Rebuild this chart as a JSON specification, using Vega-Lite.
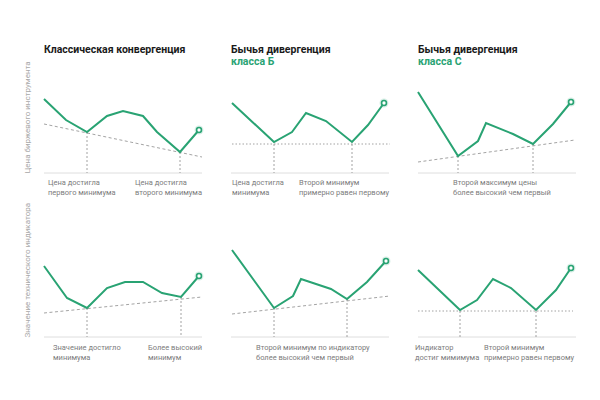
{
  "$schema": "https://vega.github.io/schema/vega-lite/v6.json",
  "padding": {"left": 23, "top": 45, "right": 5, "bottom": 5},
  "datasets": {
    "series": [
      {"panel": "p1", "x": 0, "y": 74}, {"panel": "p1", "x": 22, "y": 53}, {"panel": "p1", "x": 43, "y": 41},
      {"panel": "p1", "x": 63, "y": 57}, {"panel": "p1", "x": 79, "y": 62}, {"panel": "p1", "x": 99, "y": 57},
      {"panel": "p1", "x": 113, "y": 41}, {"panel": "p1", "x": 136, "y": 21}, {"panel": "p1", "x": 155, "y": 43},
      {"panel": "p2", "x": 1, "y": 70}, {"panel": "p2", "x": 43, "y": 31}, {"panel": "p2", "x": 61, "y": 41},
      {"panel": "p2", "x": 75, "y": 60}, {"panel": "p2", "x": 95, "y": 52}, {"panel": "p2", "x": 121, "y": 31},
      {"panel": "p2", "x": 137, "y": 48}, {"panel": "p2", "x": 153, "y": 70},
      {"panel": "p3", "x": 0, "y": 81}, {"panel": "p3", "x": 40, "y": 17}, {"panel": "p3", "x": 60, "y": 32},
      {"panel": "p3", "x": 68, "y": 50}, {"panel": "p3", "x": 95, "y": 39}, {"panel": "p3", "x": 115, "y": 29},
      {"panel": "p3", "x": 135, "y": 49}, {"panel": "p3", "x": 153, "y": 71},
      {"panel": "p4", "x": 0, "y": 71}, {"panel": "p4", "x": 23, "y": 39}, {"panel": "p4", "x": 43, "y": 29},
      {"panel": "p4", "x": 63, "y": 49}, {"panel": "p4", "x": 81, "y": 55}, {"panel": "p4", "x": 99, "y": 55},
      {"panel": "p4", "x": 118, "y": 44}, {"panel": "p4", "x": 137, "y": 40}, {"panel": "p4", "x": 155, "y": 61},
      {"panel": "p5", "x": 1, "y": 87}, {"panel": "p5", "x": 43, "y": 29}, {"panel": "p5", "x": 62, "y": 41},
      {"panel": "p5", "x": 70, "y": 58}, {"panel": "p5", "x": 100, "y": 48}, {"panel": "p5", "x": 116, "y": 38},
      {"panel": "p5", "x": 136, "y": 55}, {"panel": "p5", "x": 155, "y": 76},
      {"panel": "p6", "x": 0, "y": 67}, {"panel": "p6", "x": 42, "y": 27}, {"panel": "p6", "x": 59, "y": 37},
      {"panel": "p6", "x": 75, "y": 58}, {"panel": "p6", "x": 93, "y": 49}, {"panel": "p6", "x": 118, "y": 27},
      {"panel": "p6", "x": 138, "y": 47}, {"panel": "p6", "x": 153, "y": 69}
    ],
    "guides": [
      {"panel": "p1", "kind": "trend", "x": 0, "y": 49, "x2": 158, "y2": 16},
      {"panel": "p2", "kind": "level", "x": 1, "y": 29, "x2": 159, "y2": 29},
      {"panel": "p3", "kind": "trend", "x": 0, "y": 11, "x2": 157, "y2": 33},
      {"panel": "p4", "kind": "trend", "x": 0, "y": 24, "x2": 158, "y2": 40},
      {"panel": "p5", "kind": "trend", "x": 1, "y": 23, "x2": 159, "y2": 41},
      {"panel": "p6", "kind": "level", "x": 0, "y": 26, "x2": 155, "y2": 26}
    ],
    "drops": [
      {"panel": "p1", "x": 43, "y": 41}, {"panel": "p1", "x": 136, "y": 21},
      {"panel": "p2", "x": 43, "y": 29}, {"panel": "p2", "x": 121, "y": 29},
      {"panel": "p3", "x": 40, "y": 17}, {"panel": "p3", "x": 115, "y": 29},
      {"panel": "p4", "x": 43, "y": 29}, {"panel": "p4", "x": 137, "y": 40},
      {"panel": "p5", "x": 43, "y": 29}, {"panel": "p5", "x": 116, "y": 38},
      {"panel": "p6", "x": 42, "y": 26}, {"panel": "p6", "x": 118, "y": 26}
    ],
    "notes": [
      {"panel": "p1", "x": 4, "text": "Цена достигла\nпервого минимума"},
      {"panel": "p1", "x": 91, "text": "Цена достигла\nвторого минимума"},
      {"panel": "p2", "x": 1, "text": "Цена достигла\nминимума"},
      {"panel": "p2", "x": 68, "text": "Второй минимум\nпримерно равен первому"},
      {"panel": "p3", "x": 35, "text": "Второй максимум цены\nболее высокий чем первый"},
      {"panel": "p4", "x": 9, "text": "Значение достигло\nминимума"},
      {"panel": "p4", "x": 104, "text": "Более высокий\nминимум"},
      {"panel": "p5", "x": 25, "text": "Второй минимум по индикатору\nболее высокий чем первый"},
      {"panel": "p6", "x": -3, "text": "Индикатор\nдостиг мимимума"},
      {"panel": "p6", "x": 66, "text": "Второй минимум\nпримерно равен первому"}
    ]
  },
  "bounds": "flush",
  "columns": 3,
  "spacing": {"row": 47, "column": 29},
  "concat": [
    {
      "width": 158, "height": 117,
      "title": {"text": "Классическая конвергенция", "subtitle": " "},
      "layer": [
        {"data": {"values": [{}]}, "mark": {"type": "rule", "color": "#dedede", "strokeWidth": 1},
          "encoding": {"y": {"datum": 0, "type": "quantitative", "scale": {"domain": [0, 117], "nice": false}, "title": "Цена биржевого инструмента"}}},
        {"data": {"name": "guides"}, "transform": [{"filter": "datum.panel == 'p1'"}],
          "mark": {"type": "rule", "color": "#8c8c8c", "strokeWidth": 0.8},
          "encoding": {
            "x": {"field": "x", "type": "quantitative", "scale": {"domain": [0, 158], "nice": false}, "axis": null},
            "y": {"field": "y", "type": "quantitative", "scale": {"domain": [0, 117], "nice": false}, "title": "Цена биржевого инструмента"},
            "x2": {"field": "x2"}, "y2": {"field": "y2"},
            "strokeDash": {"field": "kind", "type": "nominal", "scale": {"domain": ["trend", "level"], "range": [[3, 2.5], [1.5, 2]]}, "legend": null}}},
        {"data": {"name": "drops"}, "transform": [{"filter": "datum.panel == 'p1'"}],
          "mark": {"type": "rule", "color": "#8c8c8c", "strokeWidth": 0.8, "strokeDash": [2, 2]},
          "encoding": {
            "x": {"field": "x", "type": "quantitative", "axis": null},
            "y": {"field": "y", "type": "quantitative", "title": "Цена биржевого инструмента"},
            "y2": {"datum": 0}}},
        {"data": {"name": "series"}, "transform": [{"filter": "datum.panel == 'p1'"}],
          "mark": {"type": "line", "color": "#29a373", "strokeWidth": 2},
          "encoding": {
            "x": {"field": "x", "type": "quantitative", "axis": null},
            "y": {"field": "y", "type": "quantitative", "title": "Цена биржевого инструмента"}}},
        {"data": {"name": "series"}, "transform": [{"filter": "datum.panel == 'p1'"}, {"joinaggregate": [{"op": "max", "field": "x", "as": "xmax"}]}, {"filter": "datum.x == datum.xmax"}],
          "encoding": {
            "x": {"field": "x", "type": "quantitative", "axis": null},
            "y": {"field": "y", "type": "quantitative", "title": "Цена биржевого инструмента"}},
          "layer": [
            {"mark": {"type": "circle", "color": "#29a373", "opacity": 0.18, "size": 80}},
            {"mark": {"type": "point", "filled": true, "fill": "white", "stroke": "#29a373", "strokeWidth": 1.6, "size": 24, "opacity": 1}}
          ]},
        {"data": {"name": "notes"}, "transform": [{"filter": "datum.panel == 'p1'"}],
          "mark": {"type": "text", "align": "left", "baseline": "alphabetic", "fontSize": 7.5, "color": "#7c7c7c", "lineBreak": "\n", "lineHeight": 10},
          "encoding": {
            "x": {"field": "x", "type": "quantitative", "axis": null},
            "y": {"datum": -12, "type": "quantitative", "title": "Цена биржевого инструмента"},
            "text": {"field": "text"}}}
      ]
    },
    {
      "width": 158, "height": 117,
      "title": {"text": "Бычья дивергенция", "subtitle": "класса Б"},
      "layer": [
        {"data": {"values": [{}]}, "mark": {"type": "rule", "color": "#dedede", "strokeWidth": 1},
          "encoding": {"y": {"datum": 0, "type": "quantitative", "scale": {"domain": [0, 117], "nice": false}, "axis": null}}},
        {"data": {"name": "guides"}, "transform": [{"filter": "datum.panel == 'p2'"}],
          "mark": {"type": "rule", "color": "#8c8c8c", "strokeWidth": 0.8},
          "encoding": {
            "x": {"field": "x", "type": "quantitative", "scale": {"domain": [0, 158], "nice": false}, "axis": null},
            "y": {"field": "y", "type": "quantitative", "scale": {"domain": [0, 117], "nice": false}, "axis": null},
            "x2": {"field": "x2"}, "y2": {"field": "y2"},
            "strokeDash": {"field": "kind", "type": "nominal", "scale": {"domain": ["trend", "level"], "range": [[3, 2.5], [1.5, 2]]}, "legend": null}}},
        {"data": {"name": "drops"}, "transform": [{"filter": "datum.panel == 'p2'"}],
          "mark": {"type": "rule", "color": "#8c8c8c", "strokeWidth": 0.8, "strokeDash": [2, 2]},
          "encoding": {
            "x": {"field": "x", "type": "quantitative", "axis": null},
            "y": {"field": "y", "type": "quantitative", "axis": null},
            "y2": {"datum": 0}}},
        {"data": {"name": "series"}, "transform": [{"filter": "datum.panel == 'p2'"}],
          "mark": {"type": "line", "color": "#29a373", "strokeWidth": 2},
          "encoding": {
            "x": {"field": "x", "type": "quantitative", "axis": null},
            "y": {"field": "y", "type": "quantitative", "axis": null}}},
        {"data": {"name": "series"}, "transform": [{"filter": "datum.panel == 'p2'"}, {"joinaggregate": [{"op": "max", "field": "x", "as": "xmax"}]}, {"filter": "datum.x == datum.xmax"}],
          "encoding": {
            "x": {"field": "x", "type": "quantitative", "axis": null},
            "y": {"field": "y", "type": "quantitative", "axis": null}},
          "layer": [
            {"mark": {"type": "circle", "color": "#29a373", "opacity": 0.18, "size": 80}},
            {"mark": {"type": "point", "filled": true, "fill": "white", "stroke": "#29a373", "strokeWidth": 1.6, "size": 24, "opacity": 1}}
          ]},
        {"data": {"name": "notes"}, "transform": [{"filter": "datum.panel == 'p2'"}],
          "mark": {"type": "text", "align": "left", "baseline": "alphabetic", "fontSize": 7.5, "color": "#7c7c7c", "lineBreak": "\n", "lineHeight": 10},
          "encoding": {
            "x": {"field": "x", "type": "quantitative", "axis": null},
            "y": {"datum": -12, "type": "quantitative", "axis": null},
            "text": {"field": "text"}}}
      ]
    },
    {
      "width": 158, "height": 117,
      "title": {"text": "Бычья дивергенция", "subtitle": "класса С"},
      "layer": [
        {"data": {"values": [{}]}, "mark": {"type": "rule", "color": "#dedede", "strokeWidth": 1},
          "encoding": {"y": {"datum": 0, "type": "quantitative", "scale": {"domain": [0, 117], "nice": false}, "axis": null}}},
        {"data": {"name": "guides"}, "transform": [{"filter": "datum.panel == 'p3'"}],
          "mark": {"type": "rule", "color": "#8c8c8c", "strokeWidth": 0.8},
          "encoding": {
            "x": {"field": "x", "type": "quantitative", "scale": {"domain": [0, 158], "nice": false}, "axis": null},
            "y": {"field": "y", "type": "quantitative", "scale": {"domain": [0, 117], "nice": false}, "axis": null},
            "x2": {"field": "x2"}, "y2": {"field": "y2"},
            "strokeDash": {"field": "kind", "type": "nominal", "scale": {"domain": ["trend", "level"], "range": [[3, 2.5], [1.5, 2]]}, "legend": null}}},
        {"data": {"name": "drops"}, "transform": [{"filter": "datum.panel == 'p3'"}],
          "mark": {"type": "rule", "color": "#8c8c8c", "strokeWidth": 0.8, "strokeDash": [2, 2]},
          "encoding": {
            "x": {"field": "x", "type": "quantitative", "axis": null},
            "y": {"field": "y", "type": "quantitative", "axis": null},
            "y2": {"datum": 0}}},
        {"data": {"name": "series"}, "transform": [{"filter": "datum.panel == 'p3'"}],
          "mark": {"type": "line", "color": "#29a373", "strokeWidth": 2},
          "encoding": {
            "x": {"field": "x", "type": "quantitative", "axis": null},
            "y": {"field": "y", "type": "quantitative", "axis": null}}},
        {"data": {"name": "series"}, "transform": [{"filter": "datum.panel == 'p3'"}, {"joinaggregate": [{"op": "max", "field": "x", "as": "xmax"}]}, {"filter": "datum.x == datum.xmax"}],
          "encoding": {
            "x": {"field": "x", "type": "quantitative", "axis": null},
            "y": {"field": "y", "type": "quantitative", "axis": null}},
          "layer": [
            {"mark": {"type": "circle", "color": "#29a373", "opacity": 0.18, "size": 80}},
            {"mark": {"type": "point", "filled": true, "fill": "white", "stroke": "#29a373", "strokeWidth": 1.6, "size": 24, "opacity": 1}}
          ]},
        {"data": {"name": "notes"}, "transform": [{"filter": "datum.panel == 'p3'"}],
          "mark": {"type": "text", "align": "left", "baseline": "alphabetic", "fontSize": 7.5, "color": "#7c7c7c", "lineBreak": "\n", "lineHeight": 10},
          "encoding": {
            "x": {"field": "x", "type": "quantitative", "axis": null},
            "y": {"datum": -12, "type": "quantitative", "axis": null},
            "text": {"field": "text"}}}
      ]
    },
    {
      "width": 158, "height": 117,
      "layer": [
        {"data": {"values": [{}]}, "mark": {"type": "rule", "color": "#dedede", "strokeWidth": 1},
          "encoding": {"y": {"datum": 0, "type": "quantitative", "scale": {"domain": [0, 117], "nice": false}, "title": "Значение технического индикатора"}}},
        {"data": {"name": "guides"}, "transform": [{"filter": "datum.panel == 'p4'"}],
          "mark": {"type": "rule", "color": "#8c8c8c", "strokeWidth": 0.8},
          "encoding": {
            "x": {"field": "x", "type": "quantitative", "scale": {"domain": [0, 158], "nice": false}, "axis": null},
            "y": {"field": "y", "type": "quantitative", "scale": {"domain": [0, 117], "nice": false}, "title": "Значение технического индикатора"},
            "x2": {"field": "x2"}, "y2": {"field": "y2"},
            "strokeDash": {"field": "kind", "type": "nominal", "scale": {"domain": ["trend", "level"], "range": [[3, 2.5], [1.5, 2]]}, "legend": null}}},
        {"data": {"name": "drops"}, "transform": [{"filter": "datum.panel == 'p4'"}],
          "mark": {"type": "rule", "color": "#8c8c8c", "strokeWidth": 0.8, "strokeDash": [2, 2]},
          "encoding": {
            "x": {"field": "x", "type": "quantitative", "axis": null},
            "y": {"field": "y", "type": "quantitative", "title": "Значение технического индикатора"},
            "y2": {"datum": 0}}},
        {"data": {"name": "series"}, "transform": [{"filter": "datum.panel == 'p4'"}],
          "mark": {"type": "line", "color": "#29a373", "strokeWidth": 2},
          "encoding": {
            "x": {"field": "x", "type": "quantitative", "axis": null},
            "y": {"field": "y", "type": "quantitative", "title": "Значение технического индикатора"}}},
        {"data": {"name": "series"}, "transform": [{"filter": "datum.panel == 'p4'"}, {"joinaggregate": [{"op": "max", "field": "x", "as": "xmax"}]}, {"filter": "datum.x == datum.xmax"}],
          "encoding": {
            "x": {"field": "x", "type": "quantitative", "axis": null},
            "y": {"field": "y", "type": "quantitative", "title": "Значение технического индикатора"}},
          "layer": [
            {"mark": {"type": "circle", "color": "#29a373", "opacity": 0.18, "size": 80}},
            {"mark": {"type": "point", "filled": true, "fill": "white", "stroke": "#29a373", "strokeWidth": 1.6, "size": 24, "opacity": 1}}
          ]},
        {"data": {"name": "notes"}, "transform": [{"filter": "datum.panel == 'p4'"}],
          "mark": {"type": "text", "align": "left", "baseline": "alphabetic", "fontSize": 7.5, "color": "#7c7c7c", "lineBreak": "\n", "lineHeight": 10},
          "encoding": {
            "x": {"field": "x", "type": "quantitative", "axis": null},
            "y": {"datum": -13, "type": "quantitative", "title": "Значение технического индикатора"},
            "text": {"field": "text"}}}
      ]
    },
    {
      "width": 158, "height": 117,
      "layer": [
        {"data": {"values": [{}]}, "mark": {"type": "rule", "color": "#dedede", "strokeWidth": 1},
          "encoding": {"y": {"datum": 0, "type": "quantitative", "scale": {"domain": [0, 117], "nice": false}, "axis": null}}},
        {"data": {"name": "guides"}, "transform": [{"filter": "datum.panel == 'p5'"}],
          "mark": {"type": "rule", "color": "#8c8c8c", "strokeWidth": 0.8},
          "encoding": {
            "x": {"field": "x", "type": "quantitative", "scale": {"domain": [0, 158], "nice": false}, "axis": null},
            "y": {"field": "y", "type": "quantitative", "scale": {"domain": [0, 117], "nice": false}, "axis": null},
            "x2": {"field": "x2"}, "y2": {"field": "y2"},
            "strokeDash": {"field": "kind", "type": "nominal", "scale": {"domain": ["trend", "level"], "range": [[3, 2.5], [1.5, 2]]}, "legend": null}}},
        {"data": {"name": "drops"}, "transform": [{"filter": "datum.panel == 'p5'"}],
          "mark": {"type": "rule", "color": "#8c8c8c", "strokeWidth": 0.8, "strokeDash": [2, 2]},
          "encoding": {
            "x": {"field": "x", "type": "quantitative", "axis": null},
            "y": {"field": "y", "type": "quantitative", "axis": null},
            "y2": {"datum": 0}}},
        {"data": {"name": "series"}, "transform": [{"filter": "datum.panel == 'p5'"}],
          "mark": {"type": "line", "color": "#29a373", "strokeWidth": 2},
          "encoding": {
            "x": {"field": "x", "type": "quantitative", "axis": null},
            "y": {"field": "y", "type": "quantitative", "axis": null}}},
        {"data": {"name": "series"}, "transform": [{"filter": "datum.panel == 'p5'"}, {"joinaggregate": [{"op": "max", "field": "x", "as": "xmax"}]}, {"filter": "datum.x == datum.xmax"}],
          "encoding": {
            "x": {"field": "x", "type": "quantitative", "axis": null},
            "y": {"field": "y", "type": "quantitative", "axis": null}},
          "layer": [
            {"mark": {"type": "circle", "color": "#29a373", "opacity": 0.18, "size": 80}},
            {"mark": {"type": "point", "filled": true, "fill": "white", "stroke": "#29a373", "strokeWidth": 1.6, "size": 24, "opacity": 1}}
          ]},
        {"data": {"name": "notes"}, "transform": [{"filter": "datum.panel == 'p5'"}],
          "mark": {"type": "text", "align": "left", "baseline": "alphabetic", "fontSize": 7.5, "color": "#7c7c7c", "lineBreak": "\n", "lineHeight": 10},
          "encoding": {
            "x": {"field": "x", "type": "quantitative", "axis": null},
            "y": {"datum": -13, "type": "quantitative", "axis": null},
            "text": {"field": "text"}}}
      ]
    },
    {
      "width": 158, "height": 117,
      "layer": [
        {"data": {"values": [{}]}, "mark": {"type": "rule", "color": "#dedede", "strokeWidth": 1},
          "encoding": {"y": {"datum": 0, "type": "quantitative", "scale": {"domain": [0, 117], "nice": false}, "axis": null}}},
        {"data": {"name": "guides"}, "transform": [{"filter": "datum.panel == 'p6'"}],
          "mark": {"type": "rule", "color": "#8c8c8c", "strokeWidth": 0.8},
          "encoding": {
            "x": {"field": "x", "type": "quantitative", "scale": {"domain": [0, 158], "nice": false}, "axis": null},
            "y": {"field": "y", "type": "quantitative", "scale": {"domain": [0, 117], "nice": false}, "axis": null},
            "x2": {"field": "x2"}, "y2": {"field": "y2"},
            "strokeDash": {"field": "kind", "type": "nominal", "scale": {"domain": ["trend", "level"], "range": [[3, 2.5], [1.5, 2]]}, "legend": null}}},
        {"data": {"name": "drops"}, "transform": [{"filter": "datum.panel == 'p6'"}],
          "mark": {"type": "rule", "color": "#8c8c8c", "strokeWidth": 0.8, "strokeDash": [2, 2]},
          "encoding": {
            "x": {"field": "x", "type": "quantitative", "axis": null},
            "y": {"field": "y", "type": "quantitative", "axis": null},
            "y2": {"datum": 0}}},
        {"data": {"name": "series"}, "transform": [{"filter": "datum.panel == 'p6'"}],
          "mark": {"type": "line", "color": "#29a373", "strokeWidth": 2},
          "encoding": {
            "x": {"field": "x", "type": "quantitative", "axis": null},
            "y": {"field": "y", "type": "quantitative", "axis": null}}},
        {"data": {"name": "series"}, "transform": [{"filter": "datum.panel == 'p6'"}, {"joinaggregate": [{"op": "max", "field": "x", "as": "xmax"}]}, {"filter": "datum.x == datum.xmax"}],
          "encoding": {
            "x": {"field": "x", "type": "quantitative", "axis": null},
            "y": {"field": "y", "type": "quantitative", "axis": null}},
          "layer": [
            {"mark": {"type": "circle", "color": "#29a373", "opacity": 0.18, "size": 80}},
            {"mark": {"type": "point", "filled": true, "fill": "white", "stroke": "#29a373", "strokeWidth": 1.6, "size": 24, "opacity": 1}}
          ]},
        {"data": {"name": "notes"}, "transform": [{"filter": "datum.panel == 'p6'"}],
          "mark": {"type": "text", "align": "left", "baseline": "alphabetic", "fontSize": 7.5, "color": "#7c7c7c", "lineBreak": "\n", "lineHeight": 10},
          "encoding": {
            "x": {"field": "x", "type": "quantitative", "axis": null},
            "y": {"datum": -13, "type": "quantitative", "axis": null},
            "text": {"field": "text"}}}
      ]
    }
  ],
  "config": {
    "font": "Roboto",
    "view": {"stroke": null},
    "axisY": {"labels": false, "ticks": false, "domain": false, "grid": false, "titleAnchor": "start", "titlePadding": 13,
      "titleColor": "#a8a8a8", "titleFontSize": 8, "titleFontWeight": "normal"},
    "title": {"anchor": "start", "frame": "group", "fontSize": 10.5, "fontWeight": "bold", "color": "#1a1a1a",
      "subtitleFontSize": 10.5, "subtitleFontWeight": "bold", "subtitleColor": "#29a373", "subtitlePadding": 1, "offset": -11}
  }
}
